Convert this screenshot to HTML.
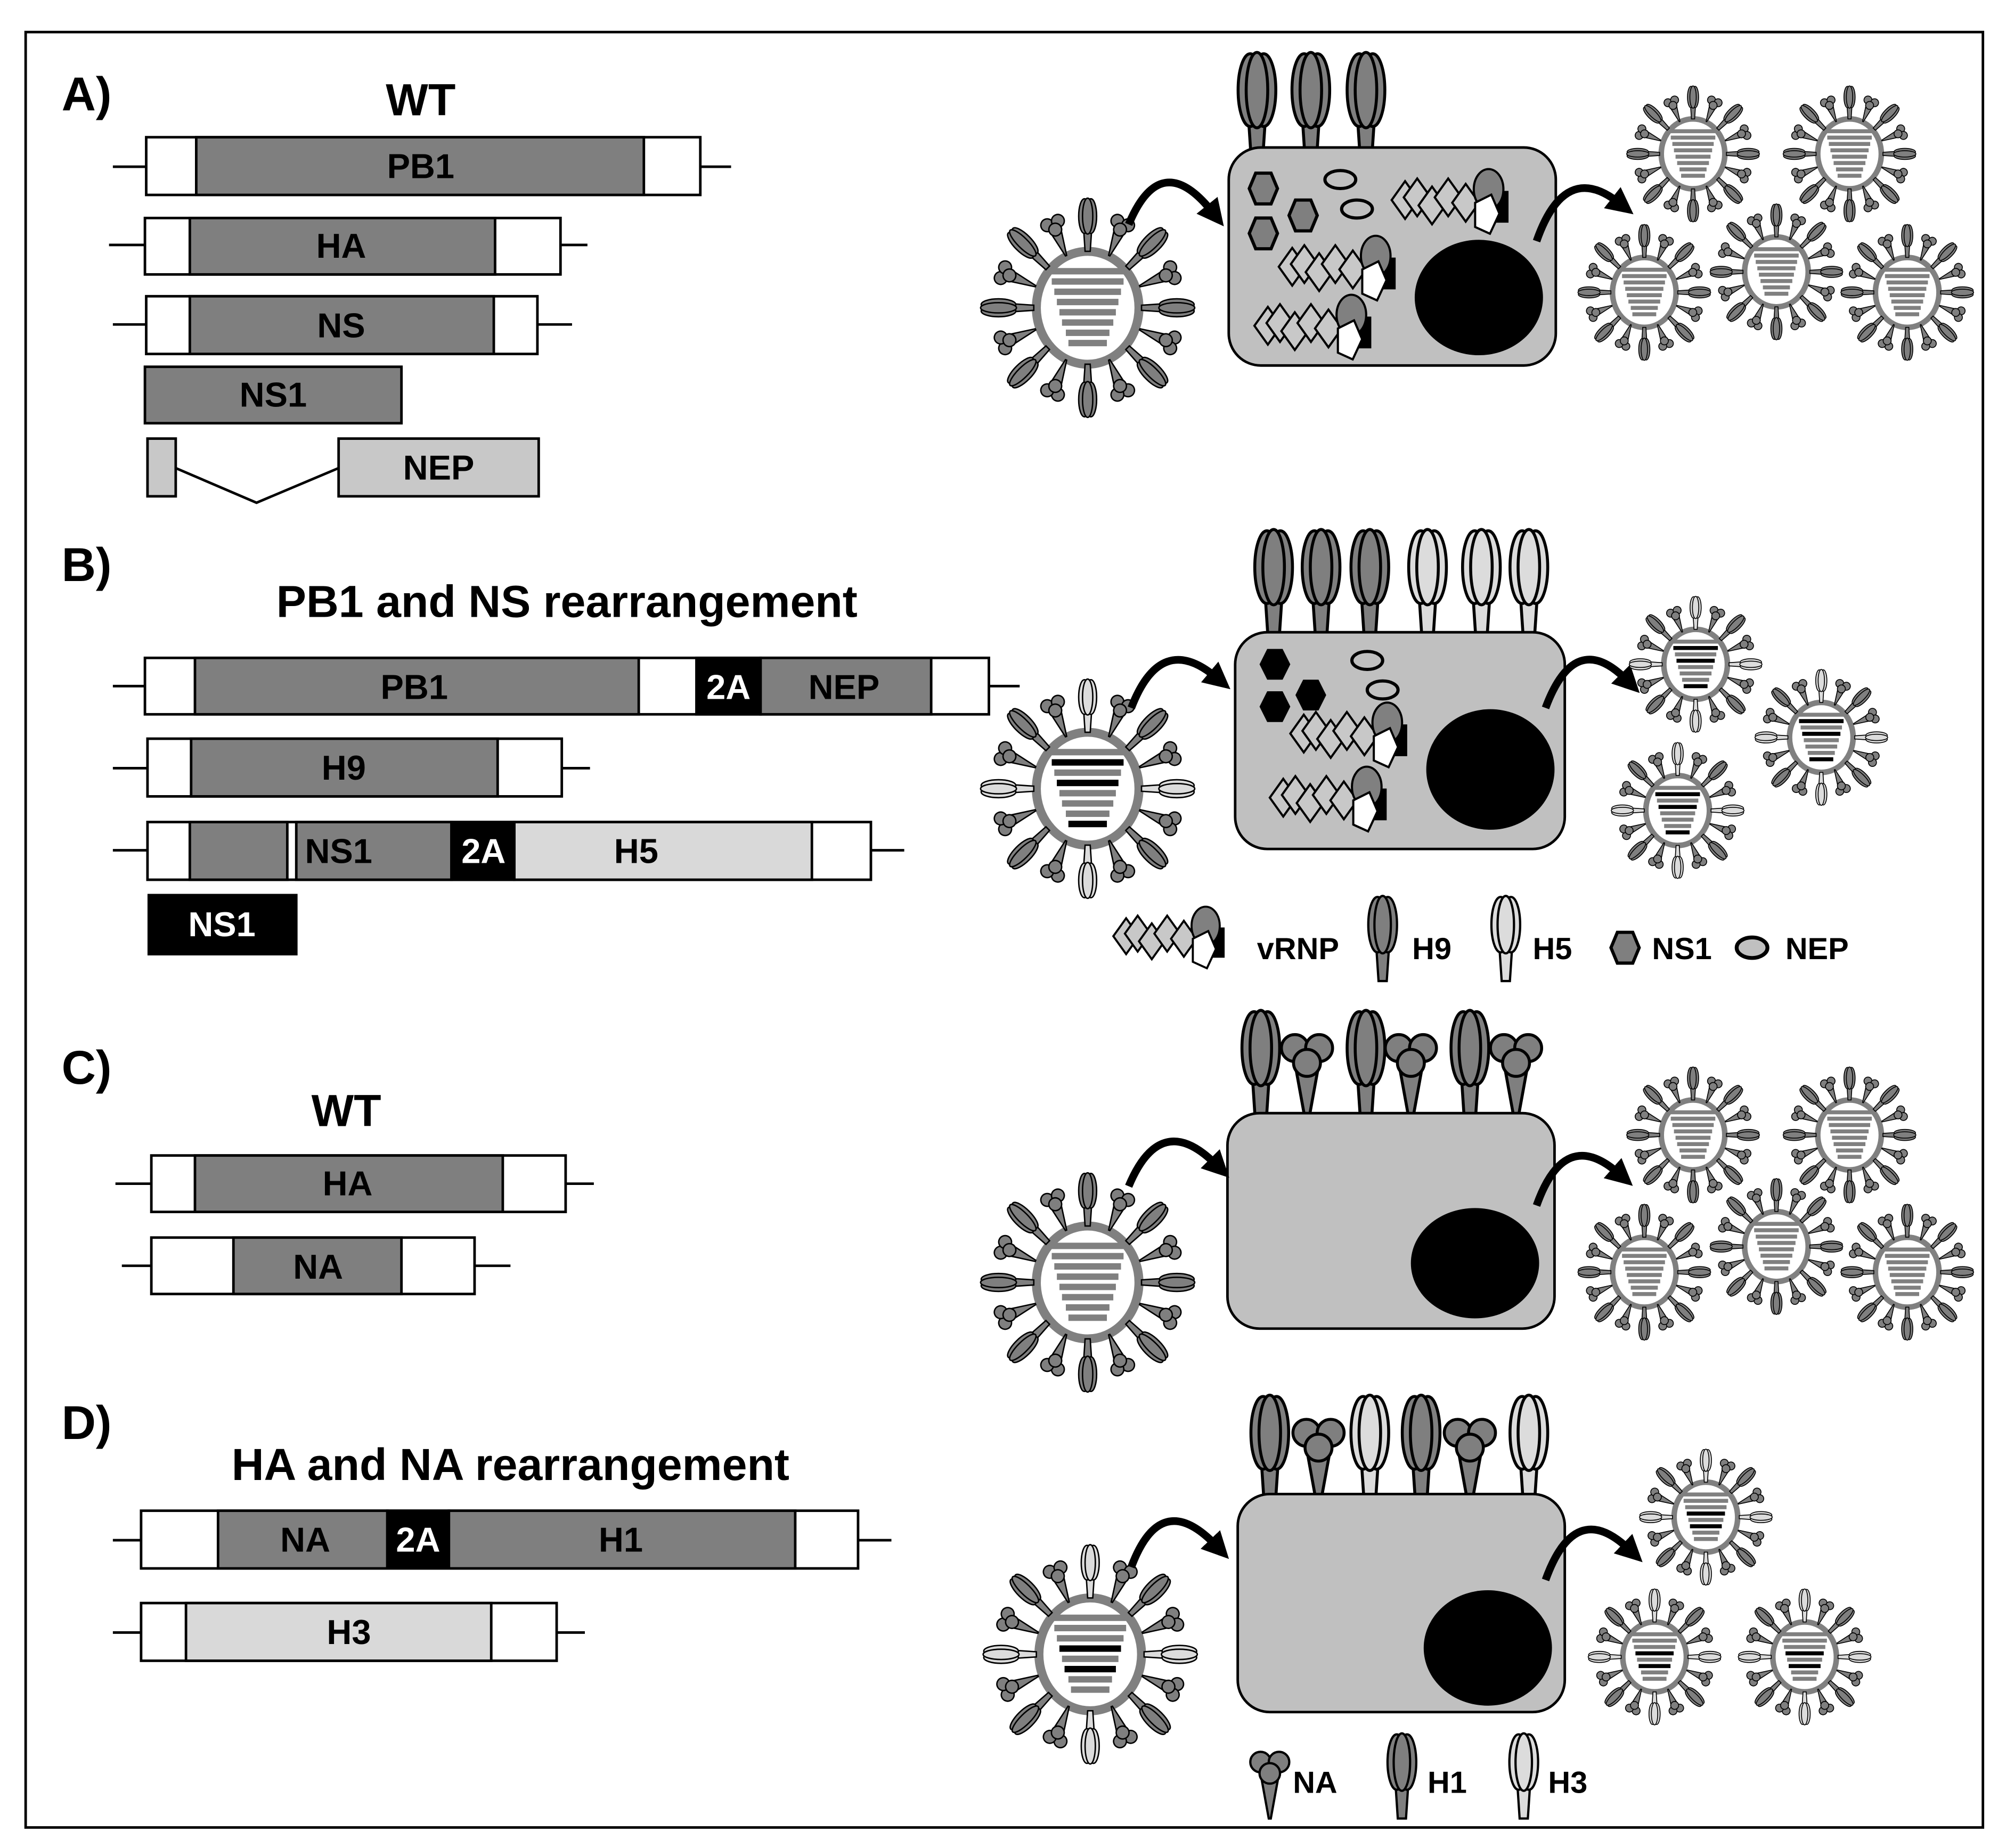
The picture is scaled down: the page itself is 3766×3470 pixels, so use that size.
<!DOCTYPE html>
<html><head><meta charset="utf-8"><style>
html,body{margin:0;padding:0;background:#fff}
svg{display:block}
text{font-family:"Liberation Sans",Arial,sans-serif;font-weight:bold}
</style></head><body>
<svg width="3766" height="3470" viewBox="0 0 1564 1441" preserveAspectRatio="none" xmlns="http://www.w3.org/2000/svg">
<defs>
<g id="haD" stroke="#000" stroke-width="2.2">
<polygon points="-4,0 4,0 6,-30 -6,-30" fill="#7f7f7f"/>
<ellipse cx="-5" cy="-55" rx="9" ry="27" fill="#7f7f7f"/>
<ellipse cx="5" cy="-55" rx="9" ry="27" fill="#7f7f7f"/>
<ellipse cx="0" cy="-55" rx="8" ry="28" fill="#7f7f7f"/>
</g>
<g id="haL" stroke="#000" stroke-width="2.2">
<polygon points="-4,0 4,0 6,-30 -6,-30" fill="#dcdcdc"/>
<ellipse cx="-5" cy="-55" rx="9" ry="27" fill="#dcdcdc"/>
<ellipse cx="5" cy="-55" rx="9" ry="27" fill="#dcdcdc"/>
<ellipse cx="0" cy="-55" rx="8" ry="28" fill="#dcdcdc"/>
</g>
<g id="na" stroke="#000" stroke-width="2.2">
<polygon points="-1,0 1,0 9,-44 -9,-44" fill="#7f7f7f"/>
<circle cx="-9" cy="-55" r="10" fill="#7f7f7f"/>
<circle cx="9" cy="-55" r="10" fill="#7f7f7f"/>
<circle cx="0" cy="-44" r="10" fill="#7f7f7f"/>
</g>
<g id="vrnp" stroke="#000" stroke-width="1.6">
<polygon points="0,0 10,-14 20,0 10,14" fill="#c8c8c8"/>
<polygon points="9,-2 19,-16 29,-2 19,12" fill="#c8c8c8"/>
<polygon points="20,4 30,-10 40,4 30,18" fill="#c8c8c8"/>
<polygon points="32,-2 42,-16 52,-2 42,12" fill="#c8c8c8"/>
<polygon points="45,2 55,-12 65,2 55,16" fill="#c8c8c8"/>
<rect x="72" y="-6" width="14" height="22" fill="#000"/>
<ellipse cx="72" cy="-8" rx="11" ry="15" fill="#808080"/>
<polygon points="62,2 74,-4 80,10 73,25 62,20" fill="#fff"/>
</g>
<g id="hex"><polygon points="-6,-12 6,-12 11,0 6,12 -6,12 -11,0" fill="#7f7f7f" stroke="#000" stroke-width="2.5"/></g>
<g id="nep"><ellipse rx="12" ry="7" fill="none" stroke="#000" stroke-width="2.5"/></g>
<g id="barsA" fill="#808080">
<rect x="-28" y="-31" width="56" height="5"/><rect x="-28" y="-23" width="56" height="5"/>
<rect x="-26" y="-15" width="52" height="5"/><rect x="-24" y="-7" width="48" height="5"/>
<rect x="-22" y="1" width="44" height="5"/><rect x="-20" y="9" width="40" height="5"/>
<rect x="-17" y="17" width="34" height="5"/><rect x="-15" y="25" width="30" height="5"/>
</g>
<g id="ringA">
<ellipse rx="40" ry="44" fill="#fff" stroke="#808080" stroke-width="7"/>
<use href="#haD" transform="rotate(0) translate(0,-44) scale(.5)"/>
<use href="#na" transform="rotate(22.5) translate(0,-44) scale(.5)"/>
<use href="#haD" transform="rotate(45) translate(0,-44) scale(.5)"/>
<use href="#na" transform="rotate(67.5) translate(0,-44) scale(.5)"/>
<use href="#haD" transform="rotate(90) translate(0,-42) scale(.5)"/>
<use href="#na" transform="rotate(112.5) translate(0,-44) scale(.5)"/>
<use href="#haD" transform="rotate(135) translate(0,-44) scale(.5)"/>
<use href="#na" transform="rotate(157.5) translate(0,-44) scale(.5)"/>
<use href="#haD" transform="rotate(180) translate(0,-44) scale(.5)"/>
<use href="#na" transform="rotate(202.5) translate(0,-44) scale(.5)"/>
<use href="#haD" transform="rotate(225) translate(0,-44) scale(.5)"/>
<use href="#na" transform="rotate(247.5) translate(0,-44) scale(.5)"/>
<use href="#haD" transform="rotate(270) translate(0,-42) scale(.5)"/>
<use href="#na" transform="rotate(292.5) translate(0,-44) scale(.5)"/>
<use href="#haD" transform="rotate(315) translate(0,-44) scale(.5)"/>
<use href="#na" transform="rotate(337.5) translate(0,-44) scale(.5)"/>
</g>
<g id="ringB">
<ellipse rx="40" ry="44" fill="#fff" stroke="#808080" stroke-width="7"/>
<use href="#haL" transform="rotate(0) translate(0,-44) scale(.5)"/>
<use href="#na" transform="rotate(22.5) translate(0,-44) scale(.5)"/>
<use href="#haD" transform="rotate(45) translate(0,-44) scale(.5)"/>
<use href="#na" transform="rotate(67.5) translate(0,-44) scale(.5)"/>
<use href="#haL" transform="rotate(90) translate(0,-42) scale(.5)"/>
<use href="#na" transform="rotate(112.5) translate(0,-44) scale(.5)"/>
<use href="#haD" transform="rotate(135) translate(0,-44) scale(.5)"/>
<use href="#na" transform="rotate(157.5) translate(0,-44) scale(.5)"/>
<use href="#haL" transform="rotate(180) translate(0,-44) scale(.5)"/>
<use href="#na" transform="rotate(202.5) translate(0,-44) scale(.5)"/>
<use href="#haD" transform="rotate(225) translate(0,-44) scale(.5)"/>
<use href="#na" transform="rotate(247.5) translate(0,-44) scale(.5)"/>
<use href="#haL" transform="rotate(270) translate(0,-42) scale(.5)"/>
<use href="#na" transform="rotate(292.5) translate(0,-44) scale(.5)"/>
<use href="#haD" transform="rotate(315) translate(0,-44) scale(.5)"/>
<use href="#na" transform="rotate(337.5) translate(0,-44) scale(.5)"/>
</g>
<g id="vA"><use href="#ringA"/><use href="#barsA"/></g>
<g id="vB"><use href="#ringB"/><use href="#barsA"/>
<rect x="-28" y="-23" width="56" height="5" fill="#000"/><rect x="-24" y="-7" width="48" height="5" fill="#000"/><rect x="-15" y="25" width="30" height="5" fill="#000"/></g>
<g id="vD"><use href="#ringB"/><use href="#barsA"/>
<rect x="-24" y="-7" width="48" height="5" fill="#000"/><rect x="-20" y="9" width="40" height="5" fill="#000"/></g>
<marker id="ah" viewBox="0 0 10 10" refX="3" refY="5" markerWidth="3.5" markerHeight="3.5" orient="auto"><path d="M0,0 L10,5 L0,10 Z" fill="#000"/></marker>
</defs>

<rect x="20" y="25" width="1526" height="1400" fill="#fff" stroke="#000" stroke-width="2"/>

<g font-size="37">
<text x="48" y="86">A)</text><text x="48" y="453">B)</text><text x="48" y="845">C)</text><text x="48" y="1122">D)</text>
</g>

<!-- A genes -->
<g stroke="#000" stroke-width="2" font-size="27">
<text x="328" y="90" text-anchor="middle" stroke="none" font-size="35">WT</text>
<line x1="88" y1="130" x2="570" y2="130"/>
<rect x="114" y="107" width="432" height="45" fill="#fff"/><rect x="153" y="107" width="349" height="45" fill="#7f7f7f"/>
<text x="328" y="139" text-anchor="middle" stroke="none">PB1</text>
<line x1="85" y1="191" x2="458" y2="191"/>
<rect x="113" y="170" width="324" height="44" fill="#fff"/><rect x="148" y="170" width="238" height="44" fill="#7f7f7f"/>
<text x="266" y="201" text-anchor="middle" stroke="none">HA</text>
<line x1="88" y1="253" x2="446" y2="253"/>
<rect x="114" y="231" width="305" height="45" fill="#fff"/><rect x="148" y="231" width="237" height="45" fill="#7f7f7f"/>
<text x="266" y="263" text-anchor="middle" stroke="none">NS</text>
<rect x="113" y="286" width="200" height="44" fill="#7f7f7f"/>
<text x="213" y="317" text-anchor="middle" stroke="none">NS1</text>
<rect x="115" y="342" width="22" height="45" fill="#c8c8c8"/>
<polyline points="137,365 200,392 264,365" fill="none"/>
<rect x="264" y="342" width="156" height="45" fill="#c8c8c8"/>
<text x="342" y="374" text-anchor="middle" stroke="none">NEP</text>
</g>

<!-- B genes -->
<g stroke="#000" stroke-width="2" font-size="27">
<text x="442" y="481" text-anchor="middle" stroke="none" font-size="35">PB1 and NS rearrangement</text>
<line x1="88" y1="535" x2="795" y2="535"/>
<rect x="113" y="513" width="658" height="44" fill="#fff"/>
<rect x="152" y="513" width="346" height="44" fill="#7f7f7f"/>
<rect x="543" y="513" width="50" height="44" fill="#000"/>
<rect x="593" y="513" width="133" height="44" fill="#7f7f7f"/>
<text x="323" y="545" text-anchor="middle" stroke="none">PB1</text>
<text x="568" y="545" text-anchor="middle" stroke="none" fill="#fff">2A</text>
<text x="658" y="545" text-anchor="middle" stroke="none">NEP</text>
<line x1="88" y1="599" x2="460" y2="599"/>
<rect x="115" y="576" width="323" height="45" fill="#fff"/><rect x="149" y="576" width="239" height="45" fill="#7f7f7f"/>
<text x="268" y="608" text-anchor="middle" stroke="none">H9</text>
<line x1="88" y1="663" x2="705" y2="663"/>
<rect x="115" y="641" width="564" height="45" fill="#fff"/>
<rect x="148" y="641" width="76" height="45" fill="#7f7f7f"/>
<rect x="231" y="641" width="121" height="45" fill="#7f7f7f"/>
<rect x="352" y="641" width="49" height="45" fill="#000"/>
<rect x="401" y="641" width="232" height="45" fill="#d9d9d9"/>
<text x="264" y="673" text-anchor="middle" stroke="none">NS1</text>
<text x="377" y="673" text-anchor="middle" stroke="none" fill="#fff">2A</text>
<text x="496" y="673" text-anchor="middle" stroke="none">H5</text>
<rect x="116" y="698" width="115" height="46" fill="#000"/>
<text x="173" y="730" text-anchor="middle" stroke="none" fill="#fff">NS1</text>
</g>

<!-- C genes -->
<g stroke="#000" stroke-width="2" font-size="27">
<text x="270" y="878" text-anchor="middle" stroke="none" font-size="35">WT</text>
<line x1="90" y1="923" x2="463" y2="923"/>
<rect x="118" y="901" width="323" height="44" fill="#fff"/><rect x="152" y="901" width="240" height="44" fill="#7f7f7f"/>
<text x="271" y="932" text-anchor="middle" stroke="none">HA</text>
<line x1="95" y1="987" x2="398" y2="987"/>
<rect x="118" y="965" width="252" height="44" fill="#fff"/><rect x="182" y="965" width="131" height="44" fill="#7f7f7f"/>
<text x="248" y="997" text-anchor="middle" stroke="none">NA</text>
</g>

<!-- D genes -->
<g stroke="#000" stroke-width="2" font-size="27">
<text x="398" y="1154" text-anchor="middle" stroke="none" font-size="35">HA and NA rearrangement</text>
<line x1="88" y1="1201" x2="695" y2="1201"/>
<rect x="110" y="1178" width="559" height="45" fill="#fff"/>
<rect x="170" y="1178" width="132" height="45" fill="#7f7f7f"/>
<rect x="302" y="1178" width="48" height="45" fill="#000"/>
<rect x="350" y="1178" width="270" height="45" fill="#7f7f7f"/>
<text x="238" y="1210" text-anchor="middle" stroke="none">NA</text>
<text x="326" y="1210" text-anchor="middle" stroke="none" fill="#fff">2A</text>
<text x="484" y="1210" text-anchor="middle" stroke="none">H1</text>
<line x1="88" y1="1273" x2="456" y2="1273"/>
<rect x="110" y="1250" width="324" height="45" fill="#fff"/><rect x="145" y="1250" width="238" height="45" fill="#d9d9d9"/>
<text x="272" y="1282" text-anchor="middle" stroke="none">H3</text>
</g>

<!-- A cell -->
<use href="#haD" transform="translate(980,128) scale(1.05)"/>
<use href="#haD" transform="translate(1022,128) scale(1.05)"/>
<use href="#haD" transform="translate(1065,128) scale(1.05)"/>
<rect x="958" y="115" width="255" height="170" rx="25" fill="#c0c0c0" stroke="#000" stroke-width="2"/>
<ellipse cx="1153" cy="232" rx="50" ry="45" fill="#000"/>
<use href="#hex" transform="translate(985,147)"/><use href="#hex" transform="translate(1016,168)"/><use href="#hex" transform="translate(985,182)"/>
<use href="#nep" transform="translate(1045,140)"/><use href="#nep" transform="translate(1058,163)"/>
<use href="#vrnp" transform="translate(1085,156) scale(1.05)"/>
<use href="#vrnp" transform="translate(997,208) scale(1.05)"/>
<use href="#vrnp" transform="translate(978,254) scale(1.05)"/>
<use href="#vA" transform="translate(848,240)"/>
<path d="M880,175 Q905,115 945,165" fill="none" stroke="#000" stroke-width="6" marker-end="url(#ah)"/>
<path d="M1198,188 Q1220,125 1262,158" fill="none" stroke="#000" stroke-width="6" marker-end="url(#ah)"/>
<use href="#vA" transform="translate(1320,120) scale(.62)"/>
<use href="#vA" transform="translate(1442,120) scale(.62)"/>
<use href="#vA" transform="translate(1282,228) scale(.62)"/>
<use href="#vA" transform="translate(1385,212) scale(.62)"/>
<use href="#vA" transform="translate(1487,228) scale(.62)"/>

<!-- B cell -->
<use href="#haD" transform="translate(993,500) scale(1.05)"/>
<use href="#haD" transform="translate(1030,500) scale(1.05)"/>
<use href="#haD" transform="translate(1068,500) scale(1.05)"/>
<use href="#haL" transform="translate(1113,500) scale(1.05)"/>
<use href="#haL" transform="translate(1155,500) scale(1.05)"/>
<use href="#haL" transform="translate(1192,500) scale(1.05)"/>
<rect x="963" y="493" width="257" height="169" rx="25" fill="#c0c0c0" stroke="#000" stroke-width="2"/>
<ellipse cx="1162" cy="600" rx="50" ry="47" fill="#000"/>
<polygon points="988,506 1000,506 1006,518 1000,530 988,530 982,518" fill="#000"/>
<polygon points="1016,530 1028,530 1034,542 1028,554 1016,554 1010,542" fill="#000"/>
<polygon points="988,539 1000,539 1006,551 1000,563 988,563 982,551" fill="#000"/>
<use href="#nep" transform="translate(1066,515)"/><use href="#nep" transform="translate(1078,538)"/>
<use href="#vrnp" transform="translate(1006,572) scale(1.05)"/>
<use href="#vrnp" transform="translate(990,622) scale(1.05)"/>
<use href="#vB" transform="translate(848,615)"/>
<path d="M882,552 Q905,492 948,528" fill="none" stroke="#000" stroke-width="6" marker-end="url(#ah)"/>
<path d="M1205,552 Q1228,490 1268,530" fill="none" stroke="#000" stroke-width="6" marker-end="url(#ah)"/>
<use href="#vB" transform="translate(1322,518) scale(.62)"/>
<use href="#vB" transform="translate(1420,575) scale(.62)"/>
<use href="#vB" transform="translate(1308,632) scale(.62)"/>

<!-- B legend -->
<g font-size="24">
<use href="#vrnp" transform="translate(868,730)"/>
<text x="980" y="748">vRNP</text>
<use href="#haD" transform="translate(1078,765) scale(.8)"/><text x="1101" y="748">H9</text>
<use href="#haL" transform="translate(1174,765) scale(.8)"/><text x="1195" y="748">H5</text>
<use href="#hex" transform="translate(1267,739)"/><text x="1288" y="748">NS1</text>
<ellipse cx="1366" cy="739" rx="12" ry="8" fill="#c0c0c0" stroke="#000" stroke-width="3"/><text x="1392" y="748">NEP</text>
</g>

<!-- C cell -->
<use href="#haD" transform="translate(983,875) scale(1.05)"/>
<use href="#na" transform="translate(1019,875) scale(1.05)"/>
<use href="#haD" transform="translate(1065,875) scale(1.05)"/>
<use href="#na" transform="translate(1100,875) scale(1.05)"/>
<use href="#haD" transform="translate(1146,875) scale(1.05)"/>
<use href="#na" transform="translate(1182,875) scale(1.05)"/>
<rect x="957" y="868" width="255" height="168" rx="25" fill="#c0c0c0" stroke="#000" stroke-width="2"/>
<ellipse cx="1150" cy="985" rx="50" ry="43" fill="#000"/>
<use href="#vA" transform="translate(848,1000)"/>
<path d="M880,925 Q905,865 948,908" fill="none" stroke="#000" stroke-width="6" marker-end="url(#ah)"/>
<path d="M1198,940 Q1220,878 1262,915" fill="none" stroke="#000" stroke-width="6" marker-end="url(#ah)"/>
<use href="#vA" transform="translate(1320,885) scale(.62)"/>
<use href="#vA" transform="translate(1442,885) scale(.62)"/>
<use href="#vA" transform="translate(1282,992) scale(.62)"/>
<use href="#vA" transform="translate(1385,972) scale(.62)"/>
<use href="#vA" transform="translate(1487,992) scale(.62)"/>

<!-- D cell -->
<use href="#haD" transform="translate(990,1175) scale(1.05)"/>
<use href="#na" transform="translate(1028,1175) scale(1.05)"/>
<use href="#haL" transform="translate(1068,1175) scale(1.05)"/>
<use href="#haD" transform="translate(1108,1175) scale(1.05)"/>
<use href="#na" transform="translate(1146,1175) scale(1.05)"/>
<use href="#haL" transform="translate(1192,1175) scale(1.05)"/>
<rect x="965" y="1165" width="255" height="170" rx="25" fill="#c0c0c0" stroke="#000" stroke-width="2"/>
<ellipse cx="1160" cy="1285" rx="50" ry="45" fill="#000"/>
<use href="#vD" transform="translate(850,1290)"/>
<path d="M882,1222 Q905,1160 948,1205" fill="none" stroke="#000" stroke-width="6" marker-end="url(#ah)"/>
<path d="M1205,1232 Q1228,1168 1270,1208" fill="none" stroke="#000" stroke-width="6" marker-end="url(#ah)"/>
<use href="#vD" transform="translate(1330,1183) scale(.62)"/>
<use href="#vD" transform="translate(1290,1292) scale(.62)"/>
<use href="#vD" transform="translate(1407,1292) scale(.62)"/>

<!-- D legend -->
<g font-size="24">
<use href="#na" transform="translate(990,1418) scale(.8)"/><text x="1008" y="1398">NA</text>
<use href="#haD" transform="translate(1093,1418) scale(.8)"/><text x="1113" y="1398">H1</text>
<use href="#haL" transform="translate(1188,1418) scale(.8)"/><text x="1207" y="1398">H3</text>
</g>
</svg>
</body></html>
